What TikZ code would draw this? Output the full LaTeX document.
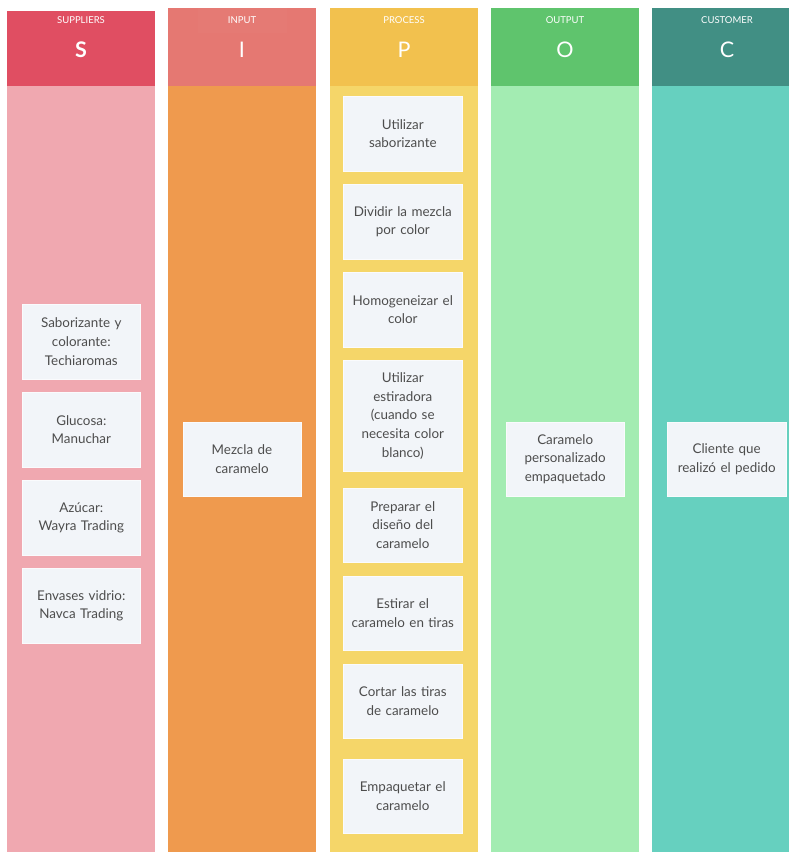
\documentclass[tikz,border=0pt]{standalone}
\usepackage{fontspec}
\setmainfont{Lato}
\definecolor{sHead}{HTML}{E04E62}
\definecolor{sBody}{HTML}{F0A8B0}
\definecolor{iHead}{HTML}{E57872}
\definecolor{iBody}{HTML}{EF9A4E}
\definecolor{pHead}{HTML}{F2C14E}
\definecolor{pBody}{HTML}{F5D669}
\definecolor{oHead}{HTML}{5FC46D}
\definecolor{oBody}{HTML}{A3ECB2}
\definecolor{cHead}{HTML}{418F84}
\definecolor{cBody}{HTML}{66D0BF}
\definecolor{cardFill}{HTML}{F2F5F9}
\definecolor{cardText}{HTML}{4D4D4D}
\tikzset{
  card/.style={draw=white!60!cardFill, line width=0.4pt, fill=cardFill, inner sep=0pt,
    minimum width=118.6pt, minimum height=74.5pt, text width=114pt, align=center,
    text=cardText, font=\fontsize{13.4}{18.7}\selectfont},
  coltitle/.style={text=white, font=\fontsize{9.5}{11}\selectfont, inner sep=0pt},
  colletter/.style={text=white, font=\fontsize{21.5}{24}\selectfont, inner sep=0pt}
}
\begin{document}
\begin{tikzpicture}[x=1pt,y=-1pt]
\fill[white] (0,0) rectangle (789,852);
\useasboundingbox (0,0) rectangle (789,852);
% columns
\fill[sBody] (7,86) rectangle (155,852);
\fill[sHead] (7,11) rectangle (155,86);
\fill[iBody] (167.5,86) rectangle (316,852);
\fill[iHead] (167.5,8) rectangle (316,86);
\fill[white, opacity=0.02] (198,8) rectangle (287,33);
\fill[pBody] (329.5,86) rectangle (478,852);
\fill[pHead] (329.5,8) rectangle (478,86);
\fill[oBody] (490.5,86) rectangle (639,852);
\fill[oHead] (490.5,8) rectangle (639,86);
\fill[cBody] (652,86) rectangle (789,852);
\fill[cHead] (652,8) rectangle (789,86);
% headers
\node[coltitle] (ts) at (81,19.7) {SUPPLIERS};
\node[colletter, font=\fontsize{21.5}{24}\selectfont\bfseries] (ls) at (81,49.5) {S};
\node[coltitle] (ti) at (242,19.7) {INPUT};
\node[colletter] (li) at (242,49.5) {I};
\node[coltitle] (tp) at (404,19.7) {PROCESS};
\node[colletter] (lp) at (404,49.5) {P};
\node[coltitle] (to) at (565,19.7) {OUTPUT};
\node[colletter] (lo) at (565,49.5) {O};
\node[coltitle] (tc) at (727,19.7) {CUSTOMER};
\node[colletter] (lc) at (727,49.5) {C};
% suppliers
\node[card] (s1) at (81.3,341.8) {Saborizante y\\colorante:\\Techiaromas};
\node[card] (s2) at (81.3,429.7) {Glucosa:\\Manuchar};
\node[card] (s3) at (81.3,517.8) {Azúcar:\\Wayra Trading};
\node[card] (s4) at (81.3,605.8) {Envases vidrio:\\Navca Trading};
% input
\node[card] (i1) at (242,459) {Mezcla de\\caramelo};
% process
\node[card] (p1) at (402.8,133.5) {Utilizar\\saborizante};
\node[card] (p2) at (402.8,221.7) {Dividir la mezcla\\por color};
\node[card] (p3) at (402.8,309.5) {Homogeneizar el\\color};
\node[card, minimum height=111pt] (p4) at (402.8,415.9) {Utilizar\\estiradora\\(cuando se\\necesita color\\blanco)};
\node[card] (p5) at (402.8,525) {Preparar el\\diseño del\\caramelo};
\node[card] (p6) at (402.8,613.2) {Estirar el\\caramelo en tiras};
\node[card] (p7) at (402.8,701.2) {Cortar las tiras\\de caramelo};
\node[card] (p8) at (402.8,796) {Empaquetar el\\caramelo};
% output
\node[card] (o1) at (565.2,459.2) {Caramelo\\personalizado\\empaquetado};
% customer
\node[card] (c1) at (726.7,459) {Cliente que\\realizó el pedido};
\end{tikzpicture}
\end{document}
